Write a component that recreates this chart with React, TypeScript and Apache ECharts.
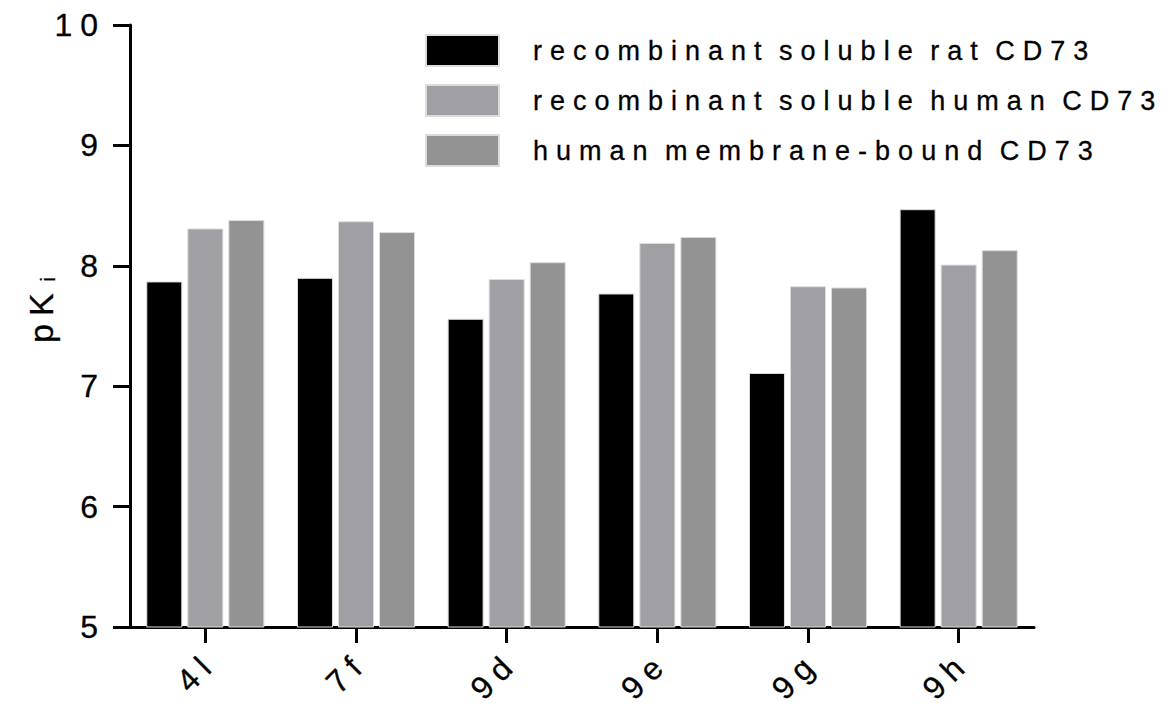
import React, { useEffect, useRef } from "react";
import * as echarts from "echarts";

const categories = ["4l", "7f", "9d", "9e", "9g", "9h"];
const seriesNames = [
  "recombinant soluble rat CD73",
  "recombinant soluble human CD73",
  "human membrane-bound CD73",
];
const ratSoluble = [7.87, 7.9, 7.56, 7.77, 7.11, 8.47];
const humanSoluble = [8.31, 8.37, 7.89, 8.19, 7.83, 8.01];
const humanMembrane = [8.38, 8.28, 8.03, 8.24, 7.82, 8.13];
const yTicks = [5, 6, 7, 8, 9, 10];

const FONT = "'Liberation Sans', Arial, Helvetica, sans-serif";
const colors = ["#000000", "#a0a0a4", "#939393"];
const heavy = { textBorderColor: "#000", textBorderWidth: 0.3 };

export default function App() {
  const ref = useRef<HTMLDivElement>(null);
  useEffect(() => {
    if (!ref.current) return;
    const chart = echarts.init(ref.current, undefined, { renderer: "svg" });
    const values = [ratSoluble, humanSoluble, humanMembrane];
    chart.setOption({
      animation: false,
      backgroundColor: "#ffffff",
      textStyle: { fontFamily: FONT },
      grid: { left: 130, right: 141, top: 25, bottom: 83, containLabel: false },
      legend: {
        orient: "vertical",
        left: 425,
        top: 34,
        padding: 0,
        itemWidth: 73,
        itemHeight: 31,
        itemGap: 17,
        icon: "rect",
        data: seriesNames,
        textStyle: {
          fontFamily: FONT,
          fontSize: 27,
          lineHeight: 20,
          color: "#000",
          padding: [11, 0, 0, 29],
          ...heavy,
        },
      },
      xAxis: {
        type: "category",
        data: categories,
        axisLine: { show: true, lineStyle: { color: "#000", width: 3 } },
        axisTick: {
          show: true,
          alignWithLabel: true,
          length: 16,
          lineStyle: { color: "#000", width: 3 },
        },
        axisLabel: {
          interval: 0,
          rotate: 45,
          margin: 36,
          fontSize: 32,
          color: "#000",
          fontFamily: FONT,
          padding: [0, -8, 0, 0],
          ...heavy,
        },
        splitLine: { show: false },
      },
      yAxis: {
        type: "value",
        min: yTicks[0],
        max: yTicks[yTicks.length - 1],
        interval: 1,
        name: "{main|pK}{sub|i}",
        nameLocation: "middle",
        nameGap: 72,
        nameRotate: 90,
        nameTextStyle: {
          fontSize: 34,
          color: "#000",
          fontFamily: FONT,
          padding: [0, 0, 0, 44],
          rich: {
            main: {
              fontSize: 34,
              color: "#000",
              fontFamily: FONT,
              ...heavy,
            },
            sub: {
              fontSize: 20,
              color: "#000",
              fontFamily: FONT,
              padding: [14, 0, 0, 16],
              ...heavy,
            },
          },
        },
        axisLine: { show: true, lineStyle: { color: "#000", width: 3 } },
        axisTick: { show: true, length: 17, lineStyle: { color: "#000", width: 3 } },
        axisLabel: {
          fontSize: 32,
          color: "#000",
          margin: 24,
          fontFamily: FONT,
          padding: [10, 0, 0, 0],
          ...heavy,
        },
        splitLine: { show: false },
      },
      series: seriesNames.map((name, i) => ({
        name,
        type: "bar",
        data: values[i],
        barWidth: 36,
        barGap: "14%",
        itemStyle: { color: colors[i], borderColor: "#dcdcdc", borderWidth: 1 },
      })),
    });
    return () => chart.dispose();
  }, []);
  return (
    <div
      ref={ref}
      style={{
        position: "fixed",
        left: 0,
        top: 0,
        width: 1175,
        height: 710,
        letterSpacing: "8px",
        wordSpacing: "-6px",
      }}
    />
  );
}
